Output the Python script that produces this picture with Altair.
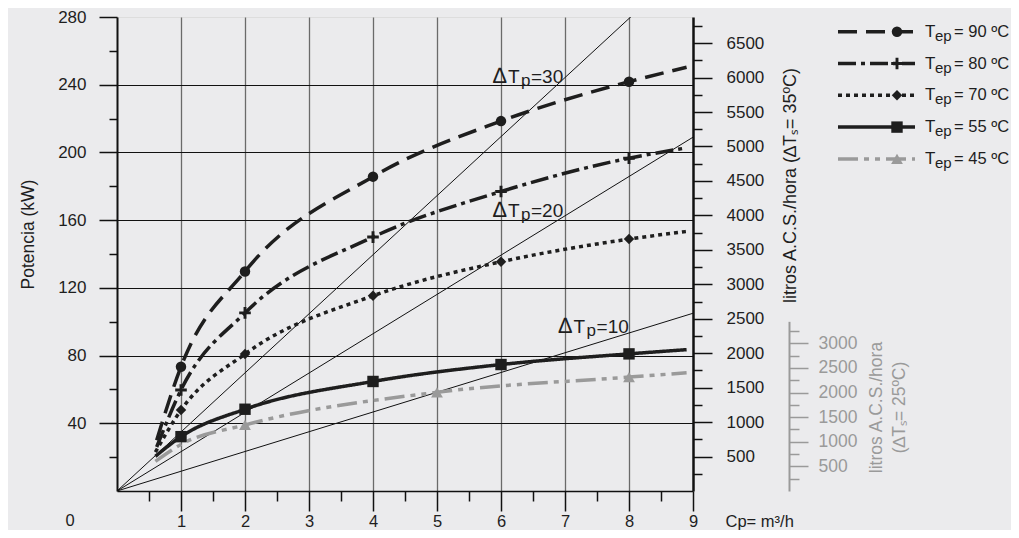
import altair as alt
import pandas as pd

# ---------------- data ----------------
series_keys = ["90", "80", "70", "55", "45"]

x_90 = [0.62, 1, 2, 4, 6, 8, 8.9]
kw_90 = [30, 73.4, 129.7, 185.7, 218.5, 241.8, 250.3]
x_80 = [0.62, 1, 2, 4, 6, 8, 8.9]
kw_80 = [26, 59.7, 105.2, 150, 176.9, 196.6, 202.7]
x_70 = [0.6, 1, 2, 4, 6, 8, 8.9]
kw_70 = [23, 47.8, 80.9, 115.3, 135.4, 148.8, 153.3]
x_55 = [0.6, 1, 2, 4, 6, 8, 8.9]
kw_55 = [20.5, 32.1, 48.3, 64.7, 74.7, 81, 83.5]
x_45 = [0.6, 1, 2, 5, 8, 8.9]
kw_45 = [17.5, 27.5, 39, 58.3, 67.3, 69.8]

markers_90 = [1, 2, 4, 6, 8]
markers_80 = [1, 2, 4, 6, 8]
markers_70 = [1, 2, 4, 6, 8]
markers_55 = [1, 2, 4, 6, 8]
markers_45 = [2, 5, 8]

dtp_values = [30, 20, 10]
dtp_end_x = [9, 9, 9]
dtp_end_kw = [314, 209, 105]
dtp_label_x = [5.875, 5.875, 6.9]
dtp_label_kw = [241.2, 162, 93.5]

x_ticks = [0.5 * i for i in range(1, 19)]
left_ticks = list(range(20, 281, 20))
right_ticks = list(range(250, 6751, 250))
gray_ticks = list(range(250, 3251, 250))
gray_axis_top = 3447
ts_black = 35
ts_gray = 25
cp_water = 1.163  # Wh / (L K)

# ---------------- style ----------------
FONT = "Liberation Sans"
TXT = "#1e1e1e"
GRAY = "#9a9a9a"
W, H = 576, 474
series_colors = [TXT, TXT, TXT, TXT, GRAY]
dashes = [[19, 9], [18, 5, 4, 5], [4, 4], [1, 0], [20, 6, 5, 6, 5, 6]]
plus_path = "M-1,-0.25L1,-0.25L1,0.25L-1,0.25Z M-0.25,-1L0.25,-1L0.25,1L-0.25,1Z"
shapes = ["circle", plus_path, "diamond", "square", "triangle-up"]
sizes = [110, 135, 110, 130, 140]

curves = {"90": (x_90, kw_90), "80": (x_80, kw_80), "70": (x_70, kw_70),
          "55": (x_55, kw_55), "45": (x_45, kw_45)}
markers = {"90": markers_90, "80": markers_80, "70": markers_70,
           "55": markers_55, "45": markers_45}

curve_df = pd.DataFrame([{"s": k, "x": xv, "kw": yv}
                         for k in series_keys for xv, yv in zip(*curves[k])])
marker_df = pd.DataFrame([{"s": k, "x": mx, "kw": dict(zip(*curves[k]))[mx]}
                          for k in series_keys for mx in markers[k]])
dtp_df = pd.DataFrame([{"d": str(d), "x": xx, "kw": yy}
                       for d, ex, ek in zip(dtp_values, dtp_end_x, dtp_end_kw)
                       for xx, yy in [(0, 0), (ex, ek)]])
dtp_lab_df = pd.DataFrame({"x": dtp_label_x, "kw": dtp_label_kw,
                           "v": [str(v) for v in dtp_values]})

# ---------------- scales & axes ----------------
xscale = alt.Scale(domain=[0, 9], nice=False)
yscale = alt.Scale(domain=[0, 280], nice=False)

x_axis = alt.Axis(
    values=x_ticks,
    labelExpr="datum.value % 1 == 0 ? format(datum.value, 'd') : ''",
    labelFontSize=16.5, labelFont=FONT, labelColor=TXT, labelPadding=2,
    labelOverlap=False, labelFlush=False,
    tickSize={"condition": {"test": "datum.value % 1 == 0", "value": 20}, "value": 10},
    tickColor="#111", tickWidth=1.5, domainColor="#111", domainWidth=1.5,
    grid=True, gridColor="#6a6a6a", gridWidth=1.3,
    gridOpacity={"condition": {"test": "datum.value % 1 == 0 && datum.value < 9", "value": 1}, "value": 0},
    title="Cp= m³/h", titleFont=FONT, titleFontSize=16.5, titleFontWeight="normal",
    titleColor=TXT, titleX=608, titleY=30, titleAlign="left", titleBaseline="middle", titleAngle=0,
)
y_axis = alt.Axis(
    orient="left", values=left_ticks,
    labelExpr="datum.value % 40 == 0 ? format(datum.value, 'd') : ''",
    labelFontSize=17, labelFont=FONT, labelColor=TXT, labelPadding=13, labelOverlap=False,
    tickSize={"condition": {"test": "datum.value % 40 == 0", "value": 18}, "value": 8},
    tickColor="#111", tickWidth=1.5, domainColor="#111", domainWidth=2,
    grid=True, gridColor="#111", gridWidth=1,
    gridOpacity={"condition": {"test": "datum.value % 40 == 0 && datum.value < 280", "value": 1}, "value": 0},
    title="Potencia (kW)", titleFont=FONT, titleFontSize=17.5, titleFontWeight="normal",
    titleColor=TXT, titleAngle=270, titleX=-89, titleY=217, titleAlign="center", titleBaseline="middle",
)

X = alt.X("x:Q", scale=xscale, axis=x_axis)
Y = alt.Y("kw:Q", scale=yscale, axis=y_axis)
color = alt.Color("s:N", scale=alt.Scale(domain=series_keys, range=series_colors), legend=None)
dash = alt.StrokeDash("s:N", scale=alt.Scale(domain=series_keys, range=dashes), legend=None)

dtp_lines = alt.Chart(dtp_df).mark_line(color="#111", strokeWidth=1, clip=True).encode(
    x=X, y=Y, detail="d:N")
curve_layer = alt.Chart(curve_df).mark_line(interpolate="monotone", strokeWidth=3.5, clip=True).encode(
    x=X, y=Y, color=color, strokeDash=dash)

marker_layers = []
for k, c, shp, sz in zip(series_keys, series_colors, shapes, sizes):
    marker_layers.append(
        alt.Chart(marker_df).transform_filter(f"datum.s == '{k}'")
        .mark_point(shape=shp, size=sz, filled=True, opacity=1, color=c, strokeWidth=0)
        .encode(x=X, y=Y))

lab_base = alt.Chart(dtp_lab_df)
lab_delta = lab_base.mark_text(text="∆", align="left", baseline="alphabetic", fontSize=22,
                               font=FONT, color=TXT).encode(x=X, y=Y)
lab_t = lab_base.mark_text(text="T", align="left", baseline="alphabetic", fontSize=19,
                           font=FONT, color=TXT, dx=15).encode(x=X, y=Y)
lab_p = lab_base.mark_text(text="p", align="left", baseline="alphabetic", fontSize=17,
                           font=FONT, color=TXT, dx=28, dy=3).encode(x=X, y=Y)
lab_v = lab_base.transform_calculate(t="'=' + datum.v").mark_text(
    align="left", baseline="alphabetic", fontSize=19, font=FONT, color=TXT, dx=38).encode(
    x=X, y=Y, text="t:N")
zero_lab = alt.Chart(pd.DataFrame({"x": [0], "kw": [0]})).mark_text(
    text="0", align="center", baseline="middle", fontSize=16.5, font=FONT, color=TXT,
    dx=-47, dy=30).encode(x=X, y=Y)

main = alt.layer(dtp_lines, curve_layer, *marker_layers, lab_delta, lab_t, lab_p, lab_v, zero_lab)

# ---------------- right axis (litros, dTs = 35) ----------------
black_max = 280 / (ts_black * cp_water / 1000)
right_axis_layer = alt.Chart(pd.DataFrame({"l": [0, black_max]})).mark_rule(opacity=0).encode(
    y=alt.Y("l:Q", scale=alt.Scale(domain=[0, black_max], nice=False),
            axis=alt.Axis(
                orient="right", values=right_ticks,
                labelExpr="datum.value % 500 == 0 ? format(datum.value, 'd') : ''",
                labelFontSize=17, labelFont=FONT, labelColor=TXT, labelPadding=14, labelOverlap=False,
                tickSize={"condition": {"test": "datum.value % 500 == 0", "value": 19}, "value": 9},
                tickColor="#111", tickWidth=1.5, domainColor="#111", domainWidth=2.5, grid=False,
                title="litros A.C.S./hora (∆Tₛ= 35ºC)", titleFont=FONT, titleFontSize=18,
                titleFontWeight="normal", titleColor=TXT, titleAngle=270, titleX=97, titleY=168,
                titleAlign="center", titleBaseline="middle")))

# ---------------- gray axis (litros, dTs = 25) ----------------
gray_top_px = H - gray_axis_top * ts_gray * cp_water / 1000 / 280 * H
gray_axis_layer = alt.Chart(pd.DataFrame({"l": [0, gray_axis_top]})).mark_rule(opacity=0).encode(
    y=alt.Y("l:Q", scale=alt.Scale(domain=[0, gray_axis_top], range=[H, gray_top_px], nice=False),
            axis=alt.Axis(
                orient="right", offset=96, values=gray_ticks,
                labelExpr="datum.value % 500 == 0 ? format(datum.value, 'd') : ''",
                labelFontSize=17.5, labelFont=FONT, labelColor=GRAY, labelPadding=10, labelOverlap=False,
                tickSize={"condition": {"test": "datum.value % 500 == 0", "value": 19}, "value": 10},
                tickColor=GRAY, tickWidth=1.5, domainColor=GRAY, domainWidth=2, grid=False,
                title=["litros A.C.S./hora", "(∆Tₛ= 25ºC)"], titleFont=FONT, titleFontSize=17.5,
                titleFontWeight="normal", titleColor=GRAY, titleAngle=270, titleX=87, titleY=390,
                titleAlign="center", titleBaseline="middle", titleLineHeight=23)))

# ---------------- legend ----------------
leg_df = pd.DataFrame({"s": series_keys, "i": list(range(len(series_keys))),
                       "rest": [f"= {k} ºC" for k in series_keys]})
leg_layers = []
for k, c, shp, sz in zip(series_keys, series_colors, shapes, sizes):
    base = alt.Chart(leg_df).transform_filter(f"datum.s == '{k}'").transform_calculate(
        ly="14.7 + datum.i * 31.8")
    LY = alt.Y("ly:Q", scale=None, axis=None)
    leg_layers += [
        base.mark_rule(strokeWidth=3.5).encode(x=alt.value(721), x2=alt.value(798), y=LY,
                                               color=color, strokeDash=dash),
        base.mark_point(shape=shp, size=sz, filled=True, opacity=1, color=c, strokeWidth=0).encode(
            x=alt.value(780), y=LY),
        base.mark_text(text="T", align="left", baseline="alphabetic", fontSize=17, font=FONT,
                       color=TXT, dy=5).encode(x=alt.value(808), y=LY),
        base.mark_text(text="ep", align="left", baseline="alphabetic", fontSize=15, font=FONT,
                       color=TXT, dy=9).encode(x=alt.value(818), y=LY),
        base.mark_text(align="left", baseline="alphabetic", fontSize=16.5, font=FONT,
                       color=TXT, dy=5).encode(x=alt.value(837), y=LY, text="rest:N"),
    ]
legend = alt.layer(*leg_layers)

chart = alt.layer(main, right_axis_layer, gray_axis_layer, legend).resolve_scale(
    y="independent").properties(
    width=W, height=H, background="#ebebed",
    autosize=alt.AutoSizeParams(type="none"),
    padding={"left": 109, "top": 9, "right": 318, "bottom": 39},
).configure_view(stroke="#111", strokeWidth=1.5, fill="white").configure(font=FONT)

chart.save("out.html", embed_options={"renderer": "svg", "actions": False})
